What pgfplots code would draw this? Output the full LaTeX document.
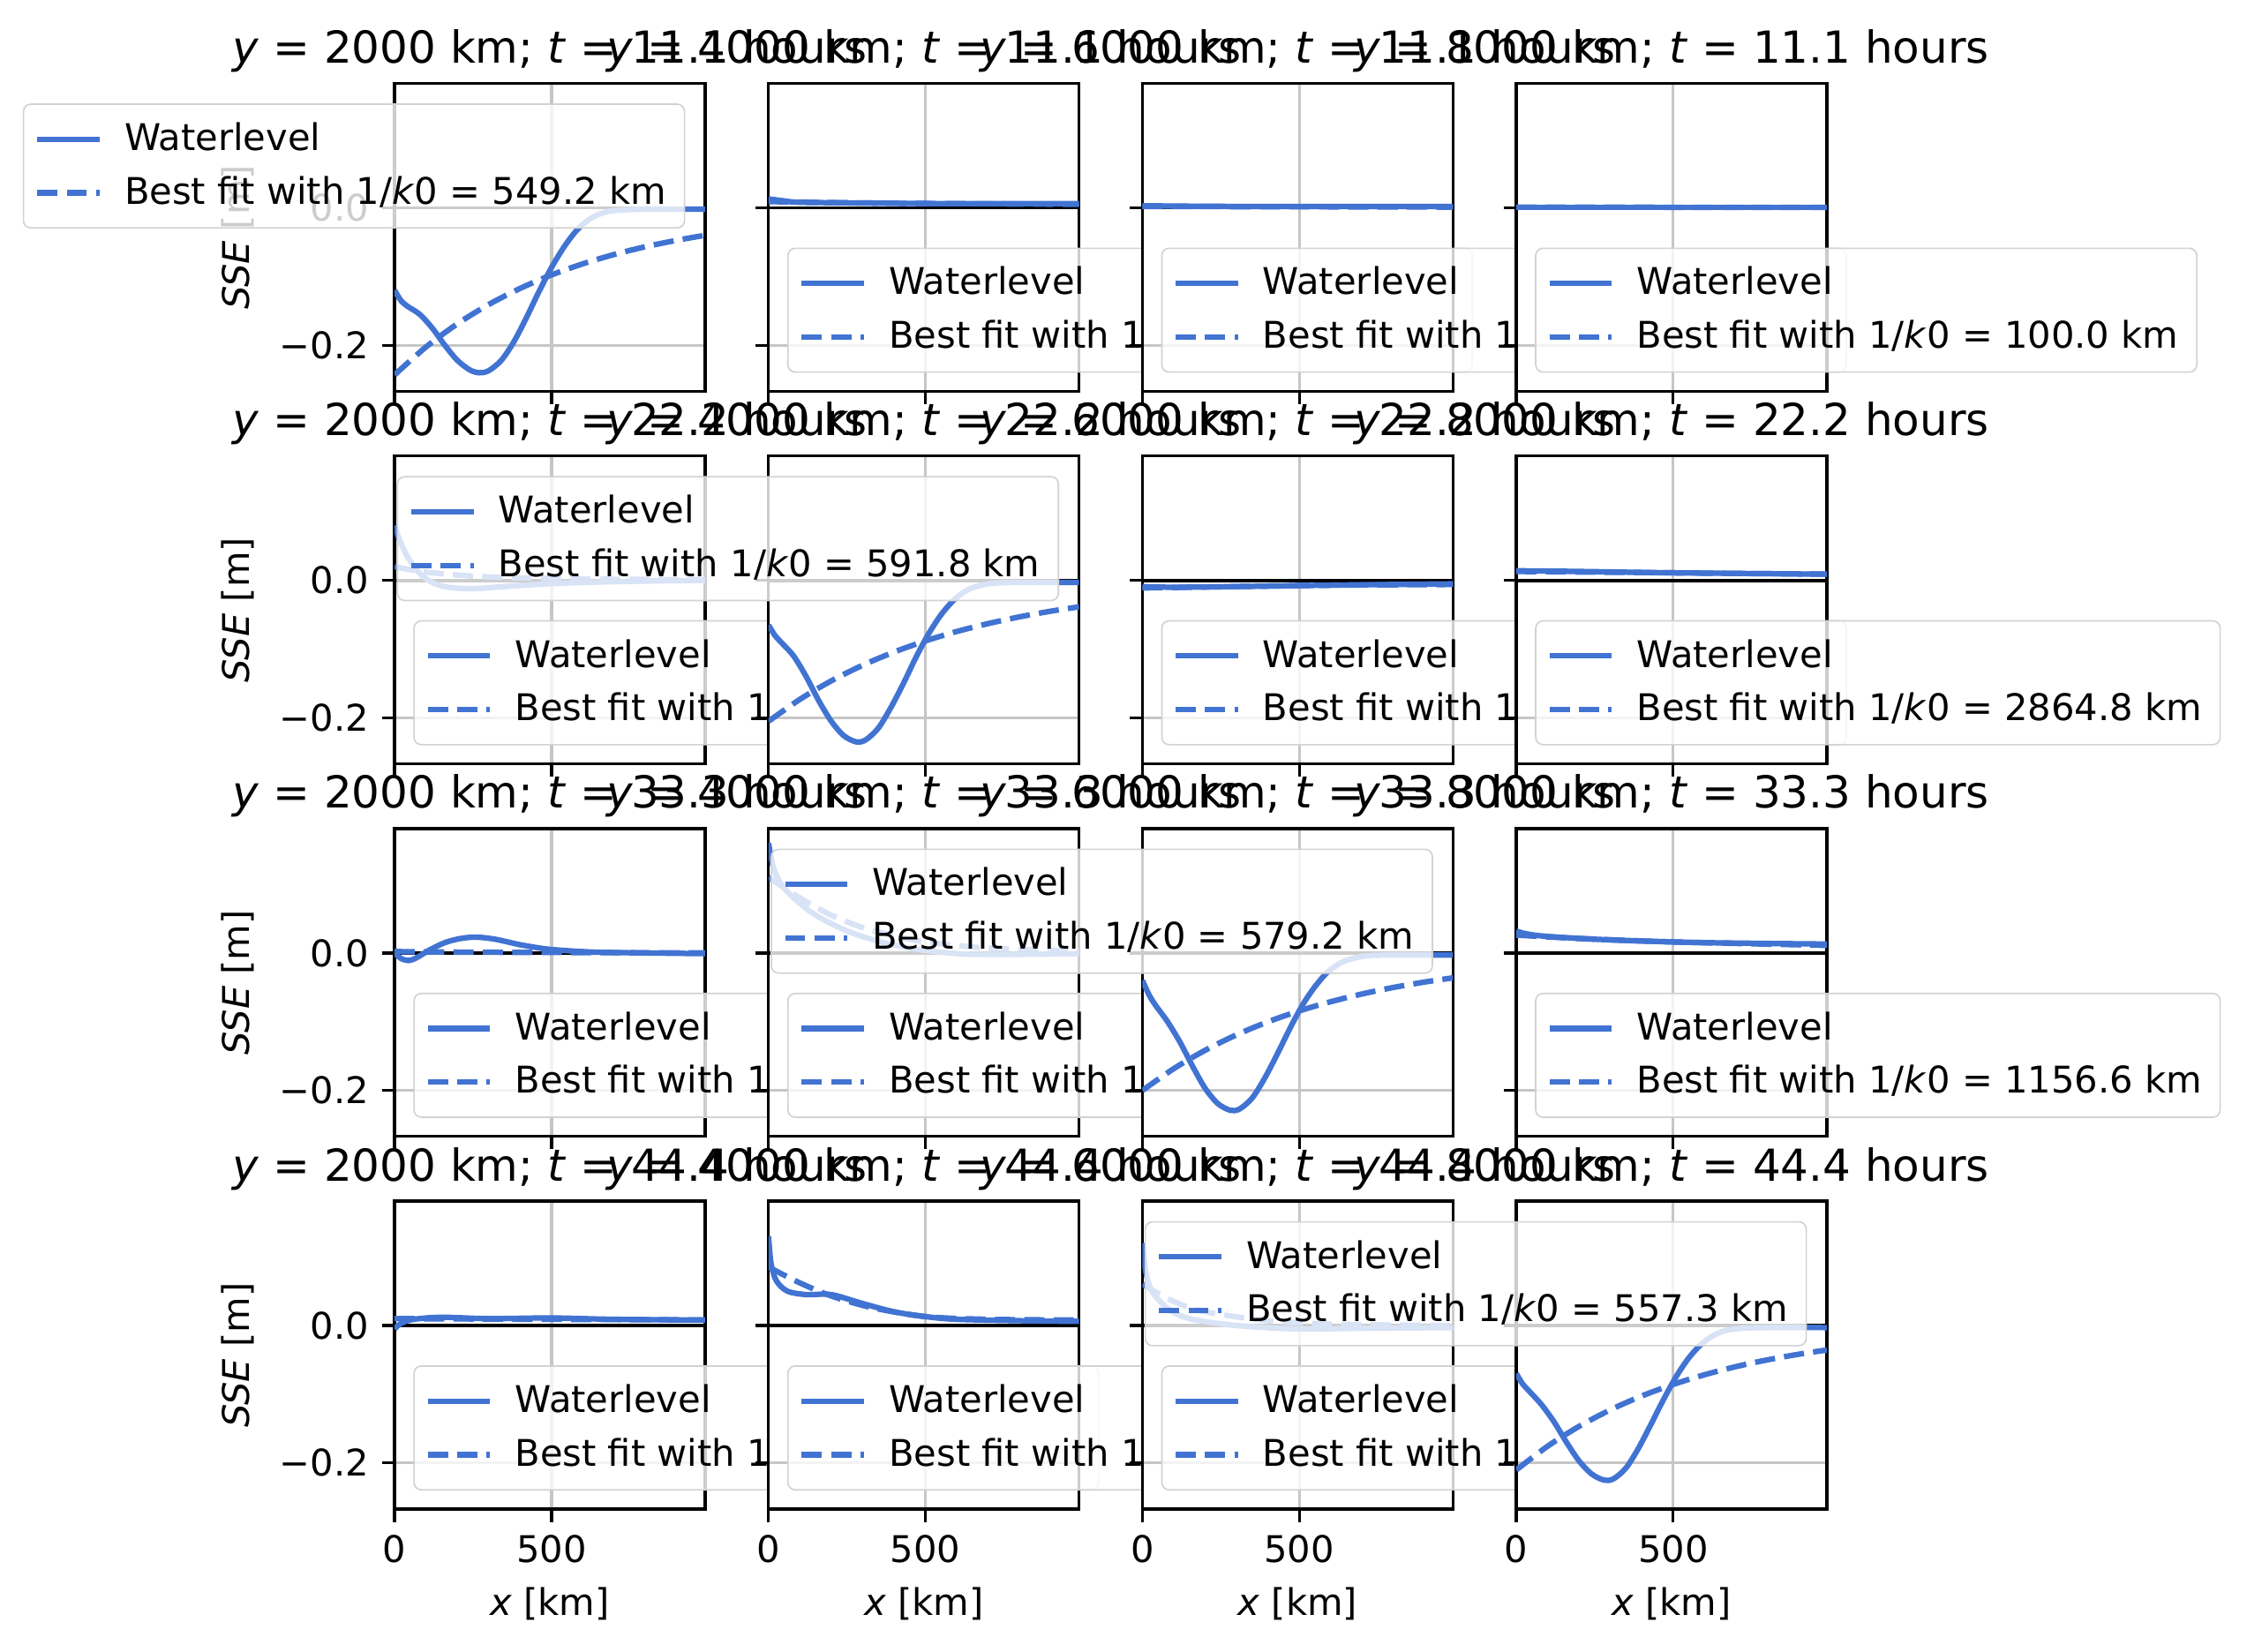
\documentclass[border=0pt]{standalone}
\usepackage{fontspec}
\setmainfont{DejaVu Sans}
\usepackage{pgfplots}
\pgfplotsset{compat=1.18}
\usepgfplotslibrary{groupplots}
\definecolor{wl}{RGB}{65,115,210}
\pgfplotsset{
 every axis/.append style={
  scale only axis, width=84.5pt, height=83.8pt,
  xmin=0, xmax=990, ymin=-0.267, ymax=0.181,
  xtick={0,500}, ytick={-0.2,0.0}, yticklabels={−0.2,0.0},
  /pgf/number format/assume math mode=true,
  tick label style={font=\fontsize{10}{12}\selectfont},
  label style={font=\fontsize{10}{12}\selectfont},
  title style={font=\fontsize{12}{14}\selectfont, yshift=-6.5pt},
  grid=major, major grid style={gray!45, line width=0.8pt},
  tick align=outside, tick pos=left, major tick length=3.5pt,
  axis line style={line width=0.8pt}, every tick/.style={black,line width=0.8pt},
  axis background/.style={fill=white},
  legend cell align=left,
  legend style={font=\fontsize{10}{15}\selectfont, draw=gray!35, rounded corners=2pt, fill=white, fill opacity=0.8, text opacity=1, inner sep=3pt, row sep=1.5pt},
  legend image code/.code={\draw[#1] (0pt,0pt) -- (17pt,0pt);\path (21pt,0pt);},
 },
 UR/.style={legend style={at={(0.936,0.935)},anchor=north east}},
 LL/.style={legend style={at={(0.06,0.06)},anchor=south west}},
 sol/.style={wl, line width=1.5pt, smooth},
 das/.style={wl, line width=1.5pt, smooth, dash pattern=on 5.5pt off 2.5pt},
}
\newcommand{\zl}{\addplot[black, line width=0.9pt, forget plot] coordinates {(0,0)(990,0)};}
\newcommand{\ti}[2]{\textit{y} = #1 km; \textit{t} = #2 hours}
\begin{document}
\begin{tikzpicture}
\begin{groupplot}[group style={group size=4 by 4, horizontal sep=17.25pt, vertical sep=17.6pt, xticklabels at=edge bottom, yticklabels at=edge left}]
% row 1
\nextgroupplot[UR, title={\ti{2000}{11.1}}, ylabel={\textit{SSE} [m]}]
\coordinate (TL) at (rel axis cs:0,1);
\zl
\addplot[sol] coordinates {(0,-0.12)(20,-0.135)(40,-0.143)(80,-0.155)(120,-0.175)(160,-0.200)(200,-0.222)(240,-0.236)(270,-0.240)(300,-0.237)(340,-0.222)(380,-0.195)(420,-0.160)(460,-0.122)(500,-0.087)(540,-0.057)(580,-0.033)(620,-0.017)(660,-0.008)(700,-0.004)(800,-0.002)(990,-0.002)};
\addplot[das] coordinates {(0,-0.243)(100,-0.2025)(200,-0.1688)(300,-0.1407)(400,-0.1173)(500,-0.0977)(600,-0.0815)(700,-0.0679)(800,-0.0566)(900,-0.0472)(990,-0.0400)};
\legend{Waterlevel, Best fit with 1/\textit{k}0 = 549.2 km}
\nextgroupplot[LL, title={\ti{4000}{11.1}}]
\zl
\addplot[sol] coordinates {(0,0.013)(50,0.010)(100,0.008)(300,0.007)(600,0.006)(990,0.006)};
\addplot[das] coordinates {(0,0.009)(300,0.007)(600,0.006)(990,0.005)};
\legend{Waterlevel, Best fit with 1/\textit{k}0 = 2391.5 km}
\nextgroupplot[LL, title={\ti{6000}{11.1}}]
\zl
\addplot[sol] coordinates {(0,0.003)(300,0.002)(990,0.002)};
\addplot[das] coordinates {(0,0.002)(990,0.001)};
\legend{Waterlevel, Best fit with 1/\textit{k}0 = 1000.0 km}
\nextgroupplot[LL, title={\ti{8000}{11.1}}]
\zl
\addplot[sol] coordinates {(0,0.001)(990,0.001)};
\addplot[das] coordinates {(0,0.001)(990,0.0005)};
\legend{Waterlevel, Best fit with 1/\textit{k}0 = 100.0 km}
% row 2
\nextgroupplot[LL, title={\ti{2000}{22.2}}, ylabel={\textit{SSE} [m]}]
\zl
\addplot[sol] coordinates {(0,0.08)(15,0.06)(40,0.035)(80,0.01)(120,-0.003)(170,-0.010)(250,-0.012)(350,-0.009)(450,-0.006)(600,-0.003)(800,-0.001)(990,0)};
\addplot[das] coordinates {(0,0.02)(100,0.012)(300,0.005)(600,0.002)(990,0.001)};
\legend{Waterlevel, Best fit with 1/\textit{k}0 = 201.3 km}
\nextgroupplot[UR, title={\ti{4000}{22.2}}]
\zl
\addplot[sol] coordinates {(0,-0.065)(20,-0.08)(40,-0.09)(80,-0.11)(120,-0.14)(160,-0.175)(200,-0.205)(240,-0.226)(280,-0.235)(310,-0.232)(350,-0.215)(390,-0.185)(430,-0.150)(470,-0.112)(510,-0.078)(550,-0.050)(590,-0.029)(630,-0.015)(670,-0.008)(720,-0.004)(800,-0.003)(990,-0.003)};
\addplot[das] coordinates {(0,-0.205)(100,-0.1731)(200,-0.1462)(300,-0.1235)(400,-0.1043)(500,-0.0881)(600,-0.0744)(700,-0.0629)(800,-0.0531)(900,-0.0448)(990,-0.0385)};
\legend{Waterlevel, Best fit with 1/\textit{k}0 = 591.8 km}
\nextgroupplot[LL, title={\ti{6000}{22.2}}]
\zl
\addplot[sol] coordinates {(0,-0.009)(100,-0.010)(300,-0.009)(600,-0.007)(990,-0.005)};
\addplot[das] coordinates {(0,-0.011)(300,-0.009)(600,-0.007)(990,-0.006)};
\legend{Waterlevel, Best fit with 1/\textit{k}0 = 1785.4 km}
\nextgroupplot[LL, title={\ti{8000}{22.2}}]
\zl
\addplot[sol] coordinates {(0,0.014)(200,0.013)(500,0.011)(990,0.009)};
\addplot[das] coordinates {(0,0.013)(500,0.011)(990,0.009)};
\legend{Waterlevel, Best fit with 1/\textit{k}0 = 2864.8 km}
% row 3
\nextgroupplot[LL, title={\ti{2000}{33.3}}, ylabel={\textit{SSE} [m]}]
\zl
\addplot[sol] coordinates {(0,0)(20,-0.008)(45,-0.011)(70,-0.007)(110,0.004)(160,0.015)(210,0.021)(260,0.023)(320,0.020)(400,0.012)(480,0.006)(560,0.003)(650,0.001)(800,0)(990,-0.001)};
\addplot[das] coordinates {(0,0.002)(300,0.001)(990,0.0)};
\legend{Waterlevel, Best fit with 1/\textit{k}0 = 412.6 km}
\nextgroupplot[LL, title={\ti{4000}{33.3}}]
\zl
\addplot[sol] coordinates {(0,0.16)(15,0.125)(40,0.10)(80,0.08)(150,0.055)(250,0.032)(350,0.017)(450,0.007)(550,0.001)(650,-0.002)(800,-0.002)(990,-0.001)};
\addplot[das] coordinates {(0,0.11)(100,0.08)(200,0.055)(300,0.037)(400,0.025)(500,0.016)(700,0.007)(990,0.003)};
\legend{Waterlevel, Best fit with 1/\textit{k}0 = 254.7 km}
\nextgroupplot[UR, title={\ti{6000}{33.3}}]
\zl
\addplot[sol] coordinates {(0,-0.04)(20,-0.06)(40,-0.075)(80,-0.10)(120,-0.13)(160,-0.165)(200,-0.197)(240,-0.219)(280,-0.229)(310,-0.227)(350,-0.211)(390,-0.182)(430,-0.147)(470,-0.110)(510,-0.076)(550,-0.049)(590,-0.028)(630,-0.015)(670,-0.008)(720,-0.004)(800,-0.003)(990,-0.003)};
\addplot[das] coordinates {(0,-0.2)(100,-0.1683)(200,-0.1416)(300,-0.1191)(400,-0.1002)(500,-0.0843)(600,-0.0710)(700,-0.0597)(800,-0.0502)(900,-0.0423)(990,-0.0362)};
\legend{Waterlevel, Best fit with 1/\textit{k}0 = 579.2 km}
\nextgroupplot[LL, title={\ti{8000}{33.3}}]
\zl
\addplot[sol] coordinates {(0,0.032)(30,0.028)(100,0.024)(300,0.019)(600,0.015)(990,0.013)};
\addplot[das] coordinates {(0,0.026)(200,0.021)(500,0.016)(990,0.011)};
\legend{Waterlevel, Best fit with 1/\textit{k}0 = 1156.6 km}
% row 4
\nextgroupplot[LL, title={\ti{2000}{44.4}}, ylabel={\textit{SSE} [m]}, xlabel={\textit{x} [km]}]
\zl
\addplot[sol] coordinates {(0,-0.005)(20,0.003)(60,0.009)(150,0.012)(300,0.010)(500,0.011)(700,0.009)(990,0.008)};
\addplot[das] coordinates {(0,0.010)(500,0.009)(990,0.008)};
\legend{Waterlevel, Best fit with 1/\textit{k}0 = 3561.2 km}
\nextgroupplot[LL, title={\ti{4000}{44.4}}, xlabel={\textit{x} [km]}]
\zl
\addplot[sol] coordinates {(0,0.13)(8,0.09)(25,0.065)(60,0.05)(120,0.045)(200,0.045)(300,0.032)(400,0.02)(500,0.013)(600,0.009)(800,0.007)(990,0.006)};
\addplot[das] coordinates {(0,0.085)(100,0.062)(200,0.043)(330,0.026)(500,0.013)(700,0.009)(990,0.008)};
\legend{Waterlevel, Best fit with 1/\textit{k}0 = 318.4 km}
\nextgroupplot[LL, title={\ti{6000}{44.4}}, xlabel={\textit{x} [km]}]
\zl
\addplot[sol] coordinates {(0,0.12)(10,0.08)(30,0.05)(80,0.025)(150,0.01)(300,0.0)(500,-0.005)(700,-0.004)(990,-0.003)};
\addplot[das] coordinates {(0,0.06)(100,0.035)(200,0.02)(400,0.007)(600,0.002)(990,0.0)};
\legend{Waterlevel, Best fit with 1/\textit{k}0 = 187.9 km}
\nextgroupplot[UR, title={\ti{8000}{44.4}}, xlabel={\textit{x} [km]}]
\zl
\addplot[sol] coordinates {(0,-0.07)(20,-0.085)(40,-0.095)(80,-0.115)(120,-0.14)(160,-0.17)(200,-0.197)(240,-0.216)(280,-0.225)(310,-0.223)(350,-0.207)(390,-0.178)(430,-0.143)(470,-0.107)(510,-0.074)(550,-0.047)(590,-0.027)(630,-0.014)(670,-0.007)(720,-0.004)(800,-0.003)(990,-0.003)};
\addplot[das] coordinates {(0,-0.21)(100,-0.1755)(200,-0.1467)(300,-0.1226)(400,-0.1025)(500,-0.0857)(600,-0.0716)(700,-0.0598)(800,-0.0500)(900,-0.0418)(990,-0.0356)};
\legend{Waterlevel, Best fit with 1/\textit{k}0 = 557.3 km}
\end{groupplot}
\path[use as bounding box] (TL) ++(-107.4pt,22.7pt) rectangle ++(611.5pt,-449.4pt);
\end{tikzpicture}
\end{document}
